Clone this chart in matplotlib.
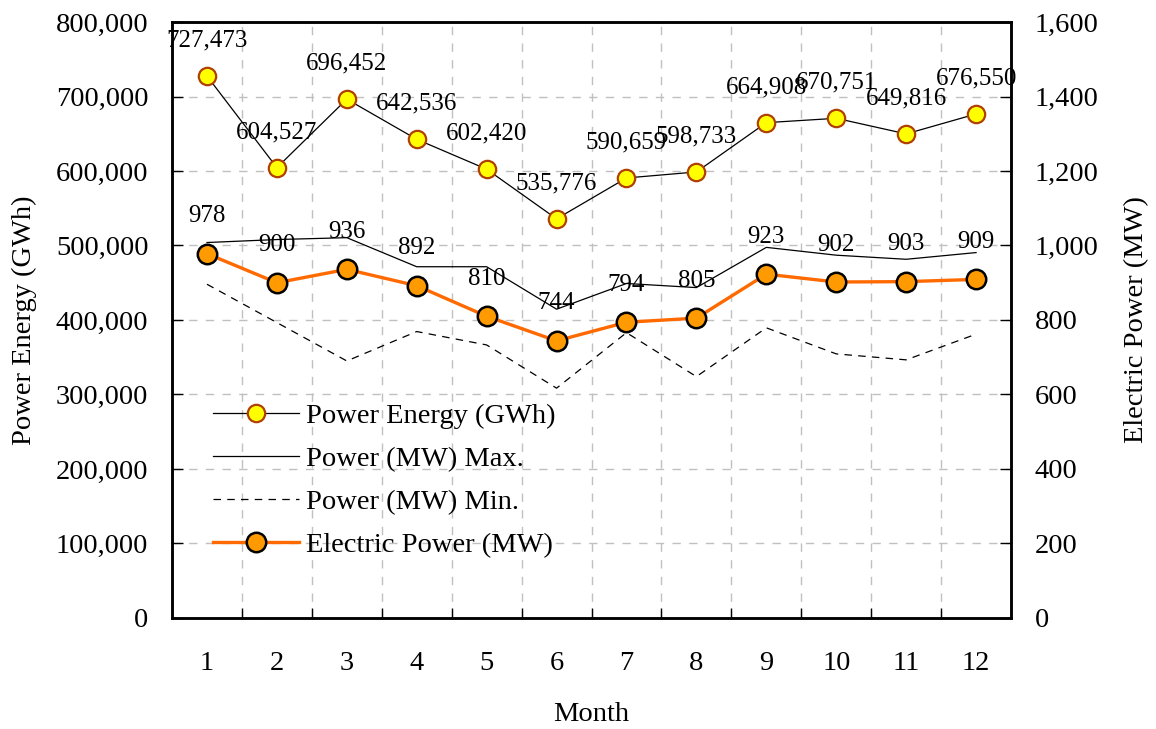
import matplotlib
matplotlib.use("Agg")
import matplotlib.pyplot as plt
from matplotlib.ticker import FuncFormatter, FixedLocator

plt.rcParams['font.family'] = ['Liberation Serif', 'DejaVu Serif']

months = [1, 2, 3, 4, 5, 6, 7, 8, 9, 10, 11, 12]
energy_gwh = [727473, 604527, 696452, 642536, 602420, 535776,
              590659, 598733, 664908, 670751, 649816, 676550]
power_max = [1008, 1016, 1021, 943, 943, 829, 898, 887, 995, 974, 963, 981]
power_min = [896, 793, 690, 769, 733, 617, 766, 648, 779, 709, 693, 762]
electric_power = [978, 900, 936, 892, 810, 744, 794, 805, 923, 902, 903, 909]

FS = 20.5

fig = plt.figure(figsize=(11.56, 7.29), dpi=100)
ax = fig.add_axes([0.1488, 0.1523, 0.7258, 0.8175])
ax2 = ax.twinx()

grid_kw = dict(color='#C0C0C0', linestyle=(0, (6, 6)), linewidth=1.0)

# Left axis
ax.set_xlim(0.5, 12.5)
ax.set_ylim(0, 800000)
ax.set_yticks(range(0, 800001, 100000))
ax.yaxis.set_major_formatter(FuncFormatter(lambda v, p: f"{int(v):,}"))
ax.set_xticks(months)
ax.xaxis.set_minor_locator(FixedLocator([m + 0.5 for m in months[:-1]]))
ax.tick_params(axis='x', which='major', length=0, labelsize=FS, pad=24)
ax.tick_params(axis='x', which='minor', direction='in', length=7, width=1.0)
ax.tick_params(axis='y', direction='in', length=8, width=1.0, labelsize=FS, pad=17)
ax.grid(True, axis='y', which='major', **grid_kw)
ax.grid(True, axis='x', which='minor', **grid_kw)
ax.set_axisbelow(True)
for s in ax.spines.values():
    s.set_linewidth(1.8)

# Right axis
ax2.set_ylim(0, 1600)
ax2.set_yticks(range(0, 1601, 200))
ax2.yaxis.set_major_formatter(FuncFormatter(lambda v, p: f"{int(v):,}"))
ax2.tick_params(axis='y', direction='in', length=8, width=1.0, labelsize=FS, pad=17)
for s in ax2.spines.values():
    s.set_linewidth(1.8)

# Series
l1, = ax.plot(months, energy_gwh, color='black', linewidth=0.9, marker='o',
              markersize=12.5, markerfacecolor='#FFFF00', markeredgecolor='#B04000',
              markeredgewidth=1.6, label='Power Energy (GWh)', zorder=5)
l2, = ax2.plot(months, power_max, color='black', linewidth=0.9,
               label='Power (MW) Max.', zorder=3)
l3, = ax2.plot(months, power_min, color='black', linewidth=0.9,
               linestyle=(0, (6, 5)), label='Power (MW) Min.', zorder=3)
l4, = ax2.plot(months, electric_power, color='#FF6A00', linewidth=2.4, marker='o',
               markersize=14, markerfacecolor='#FF9A00', markeredgecolor='black',
               markeredgewidth=1.8, label='Electric Power (MW)', zorder=6)

for m, v in zip(months, energy_gwh):
    ax.annotate(f"{v:,}", (m, v), xytext=(0, 25.5), textcoords='offset points',
                ha='center', va='center', fontsize=18, zorder=7)
for m, v in zip(months, electric_power):
    ax2.annotate(f"{v:,}", (m, v), xytext=(0, 27), textcoords='offset points',
                 ha='center', va='center', fontsize=18, zorder=7)

ax.set_xlabel('Month', fontsize=FS, labelpad=18.5)
ax.set_ylabel('Power Energy (GWh)', fontsize=FS, labelpad=13.5)
ax2.set_ylabel('Electric Power (MW)', fontsize=FS, labelpad=18.5)

leg = ax2.legend(handles=[l1, l2, l3, l4], loc='upper left',
                 bbox_to_anchor=(0.1747, 0.4625), bbox_transform=fig.transFigure,
                 frameon=False, fontsize=FS, handlelength=3.0, handletextpad=0.25,
                 labelspacing=0.6, borderaxespad=0)

fig.savefig('out.png', dpi=100)
